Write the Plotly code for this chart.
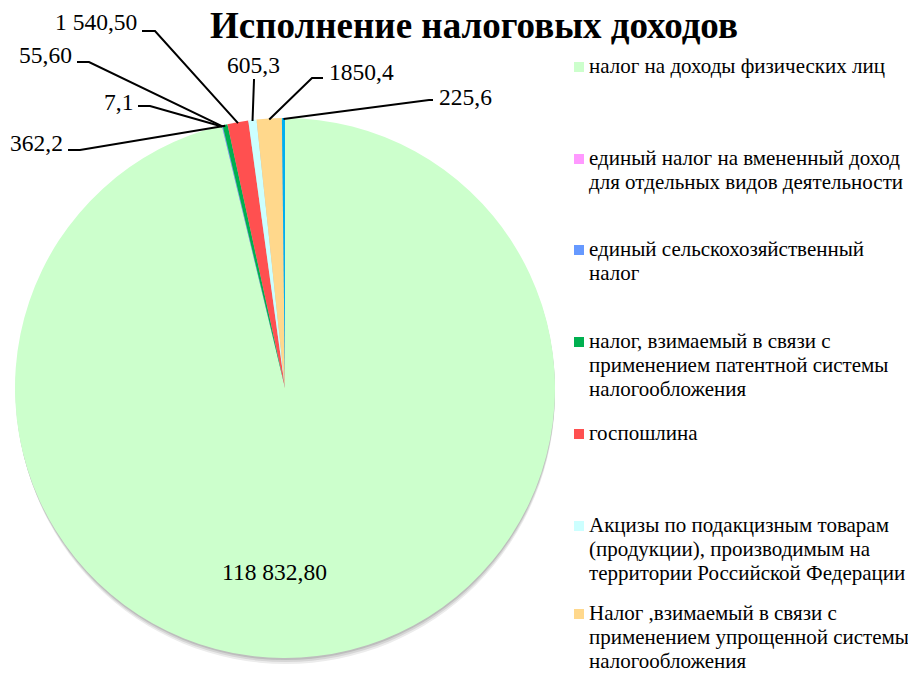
import math
import plotly.graph_objects as go

# --- data ---
categories = [
    "налог на доходы физических лиц",
    "единый налог на вмененный доход для отдельных видов деятельности",
    "единый сельскохозяйственный налог",
    "налог, взимаемый в связи с применением патентной системы налогообложения",
    "госпошлина",
    "Акцизы по подакцизным товарам (продукции), производимым на территории Российской Федерации",
    "Налог ,взимаемый в связи с применением упрощенной системы налогообложения",
    "прочие",
]
values = [118832.80, 7.1, 55.60, 362.2, 1540.50, 605.3, 1850.4, 225.6]
value_labels = ["118 832,80", "7,1", "55,60", "362,2", "1 540,50", "605,3", "1850,4", "225,6"]
colors = ["#CCFFCC", "#FF99FF", "#6699FF", "#00B050", "#FF5050", "#CCFFFF", "#FFD88C", "#00B0F0"]

# legend text as it is wrapped in the picture (the last slice has no entry)
legend_lines = [
    ["налог на доходы физических лиц"],
    ["единый налог на вмененный доход", "для отдельных видов деятельности"],
    ["единый сельскохозяйственный", "налог"],
    ["налог, взимаемый в связи с", "применением патентной системы", "налогообложения"],
    ["госпошлина"],
    ["Акцизы по подакцизным товарам", "(продукции), производимым на", "территории Российской Федерации"],
    ["Налог ,взимаемый в связи с", "применением упрощенной системы", "налогообложения"],
]
title_text = "Исполнение налоговых доходов"

FONT = "Liberation Serif"

# page has an 8px body margin, so the figure is drawn a bit smaller and
# every position below is given in window pixels
OFF = 8
W, H = 916 - OFF, 673 - OFF
cx, cy, r = 285, 388, 270


def px(x):
    return (x - OFF) / W


def py(y):
    return 1 - (y - OFF) / H


fig = go.Figure(go.Pie(
    labels=categories, values=values, sort=False, direction="clockwise", rotation=0,
    marker=dict(colors=colors, line=dict(width=0)),
    textinfo="none", showlegend=False,
    domain=dict(x=[px(cx - r), px(cx + r)], y=[py(cy + r), py(cy - r)]),
))

shapes = []
annotations = []

# soft shadow under the pie
for off, col in [(6, "#ececec"), (4, "#d6d6d6"), (2, "#bdbdbd")]:
    shapes.append(dict(type="circle", xref="paper", yref="paper", layer="below",
                       x0=px(cx - r + off * 0.3), x1=px(cx + r), y0=py(cy + r + off), y1=py(cy - r + off),
                       fillcolor=col, line=dict(width=0)))

# data labels: text centre and start of leader line (pixels); index matches values
label_pos = {
    0: dict(x=274, y=572),
    1: dict(x=118, y=102, start=(138, 106), elbow=(150, 106)),
    2: dict(x=45, y=55, start=(77, 62), elbow=(89, 62)),
    3: dict(x=36, y=143, start=(68, 150), elbow=(80, 150)),
    4: dict(x=96, y=22, start=(142, 31), elbow=(155, 31)),
    5: dict(x=253, y=65, start=(254, 79), elbow=(254, 80)),
    6: dict(x=361, y=72, start=(323, 78), elbow=(312, 78)),
    7: dict(x=465, y=97, start=(433, 100), elbow=(429, 100)),
}

total = sum(values)
cum = 0.0
for i, v in enumerate(values):
    mid = (cum + v / 2) / total * 2 * math.pi
    cum += v
    p = label_pos[i]
    annotations.append(dict(x=px(p["x"]), y=py(p["y"]), xref="paper", yref="paper",
                            xanchor="center", yanchor="middle",
                            text=value_labels[i], showarrow=False,
                            font=dict(family=FONT, size=23.5, color="black")))
    if "start" in p:
        ex = cx + (r - 1) * math.sin(mid)
        ey = cy - (r - 1) * math.cos(mid)
        (sx, sy), (bx, by) = p["start"], p["elbow"]
        shapes.append(dict(type="path", xref="paper", yref="paper",
                           path=f"M {px(sx)} {py(sy)} L {px(bx)} {py(by)} L {px(ex)} {py(ey)}",
                           line=dict(color="black", width=2)))

# manual legend
entry_y = [67, 159, 250, 342, 434, 526, 614]
line_step = 24.2
for i, lines in enumerate(legend_lines):
    y0 = entry_y[i]
    shapes.append(dict(type="rect", xref="paper", yref="paper",
                       x0=px(574), x1=px(584), y0=py(y0 + 5), y1=py(y0 - 5),
                       fillcolor=colors[i], line=dict(width=0)))
    for k, t in enumerate(lines):
        annotations.append(dict(x=px(588), y=py(y0 + k * line_step - 1), xref="paper", yref="paper",
                                xanchor="left", yanchor="middle", text=t, showarrow=False,
                                borderpad=0,
                                font=dict(family=FONT, size=21, color="black")))

# title
annotations.append(dict(x=px(474), y=py(25), xref="paper", yref="paper",
                        xanchor="center", yanchor="middle", showarrow=False, borderpad=0,
                        text=f"<b>{title_text}</b>",
                        font=dict(family=FONT, size=37, color="black")))

fig.update_layout(
    width=W, height=H,
    margin=dict(l=0, r=0, t=0, b=0),
    paper_bgcolor="white",
    shapes=shapes,
    annotations=annotations,
)

fig.write_html("out.html")
